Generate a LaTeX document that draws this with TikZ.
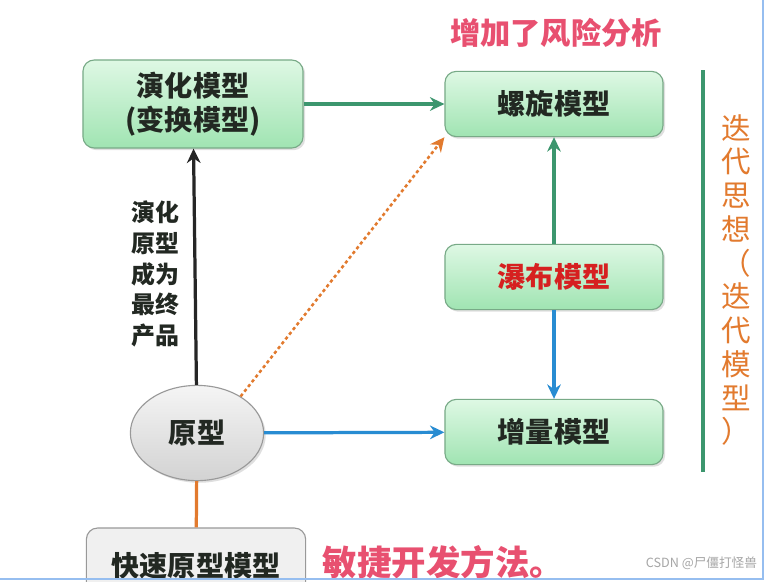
\documentclass[tikz,border=0pt]{standalone}
\usepackage{fontspec}
\usepackage{tikz}
\usepackage{xcolor}
\usetikzlibrary{shapes.geometric, arrows.meta, positioning, shadows}
\setmainfont{Noto Sans CJK SC}
\newfontfamily\cjklight{Noto Sans CJK SC}
\definecolor{cText}{RGB}{34,40,34}
\definecolor{cPink}{RGB}{232,80,112}
\definecolor{cRed}{RGB}{214,32,32}
\definecolor{cOrange}{RGB}{226,122,46}
\definecolor{cGreenLine}{RGB}{60,150,110}
\definecolor{cBlue}{RGB}{40,140,210}
\definecolor{cBoxTop}{RGB}{222,248,228}
\definecolor{cBoxBot}{RGB}{160,228,178}
\definecolor{cBoxEdge}{RGB}{120,170,135}
\definecolor{cFrame}{RGB}{150,190,240}
\tikzset{
	model/.style    ={rectangle, rounded corners=8pt, draw=cBoxEdge, thick, top color=cBoxTop, bottom color=cBoxBot, align=center, text=cText, font=\fontsize{20}{24}\selectfont\bfseries, drop shadow={opacity=0.25, shadow xshift=1.5pt, shadow yshift=-1.5pt}},
	proto/.style    ={ellipse, draw=gray!80, thick, top color=gray!8, bottom color=gray!35, minimum width=3.33cm, minimum height=2.38cm, text=cText, font=\fontsize{20}{24}\selectfont\bfseries, drop shadow={opacity=0.25, shadow xshift=1.5pt, shadow yshift=-1.5pt}},
	quick/.style    ={rectangle, rounded corners=8pt, draw=gray!80, thick, fill=gray!12, minimum width=5.48cm, minimum height=1.9cm, text=cText, font=\fontsize{20}{24}\selectfont\bfseries},
	note/.style     ={font=\fontsize{21.5}{24}\selectfont\bfseries, text=cPink},
	flow/.style     ={-{Stealth[length=3.6mm, width=3.4mm]}, line width=2.3pt},
}
\begin{document}
\begin{tikzpicture}[x=0.025cm, y=-0.025cm]
	\useasboundingbox (0,0) rectangle (767,581);
	\fill[white] (0,0) rectangle (767,581);
	% boxes
	\node[model, minimum width=5.5cm, minimum height=2.2cm] (evo) at (193,104) {演化模型\\(变换模型)};
	\node[model, minimum width=5.45cm, minimum height=1.63cm] (spiral) at (554,104) {螺旋模型};
	\node[model, minimum width=5.45cm, minimum height=1.63cm, text=cRed] (water) at (554,277) {瀑布模型};
	\node[model, minimum width=5.45cm, minimum height=1.63cm] (incr) at (554,432) {增量模型};
	\node[proto] (proto) at (197,433) {原型};
	\node[quick] (quick) at (196,566) {快速原型模型};
	% notes
	\node[note] (risk) at (556,33) {增加了风险分析};
	\node[note, font=\fontsize{24.5}{28}\selectfont\bfseries, anchor=west] (agile) at (318,562) {敏捷开发方法。};
	\node[align=center, text=cText, font=\fontsize{17}{22}\selectfont\bfseries] (final) at (155,274) {演化\\原型\\成为\\最终\\产品};
	\node[align=center, text=cOrange, font=\fontsize{21}{24}\selectfont\cjklight] (iter) at (736,280) {迭\\代\\思\\想\\（\\迭\\代\\模\\型\\）};
	\coordinate (lineTop) at (703,70);
	\coordinate (lineBot) at (703,472);
	\draw[cGreenLine, line width=2.4pt] (lineTop) -- (lineBot);
	% connectors
	\draw[flow, cGreenLine] (evo) -- (spiral);
	\draw[flow, black!85] (proto) -- (evo);
	\draw[flow, cOrange, dotted, line width=1.8pt] (proto.40) -- (spiral.south west);
	\draw[flow, cBlue] (proto) -- (incr);
	\draw[flow, cGreenLine] (water) -- (spiral);
	\draw[flow, cBlue] (water) -- (incr);
	\draw[cOrange, line width=2.3pt] (proto) -- (quick);
	% screenshot frame and watermark
	\node[text=gray!70, font=\fontsize{9}{10}\selectfont, anchor=east] (mark) at (762,563) {CSDN @尸僵打怪兽};
	\draw[cFrame, line width=1.5pt] (763,0) -- (763,579) -- (0,579);
\end{tikzpicture}
\end{document}
